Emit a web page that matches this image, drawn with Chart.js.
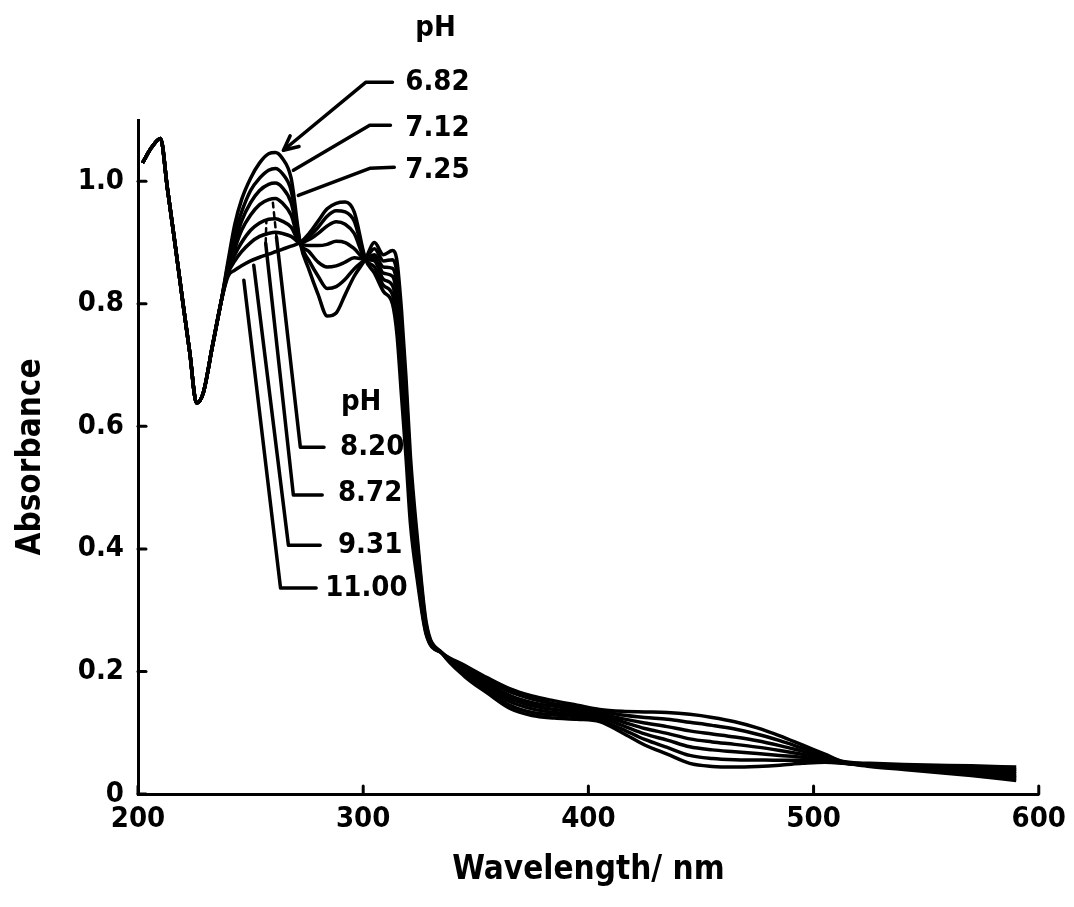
<!DOCTYPE html>
<html>
<head>
<meta charset="utf-8">
<script src="https://cdn.jsdelivr.net/npm/chart.js@4.4.1/dist/chart.umd.min.js"></script>
<style>
  html, body { margin: 0; padding: 0; background: #fff; }
  #wrap { width: 1074px; height: 907px; }
</style>
</head>
<body>
<div id="wrap"><canvas id="spectra" width="1074" height="907"></canvas></div>
<script>
// Wavelength grid (nm) shared by all spectra
const wavelength = [202, 206, 210, 213, 216, 220, 223, 226, 229, 233, 237,
  240, 243, 246, 250, 254, 258, 261, 264, 268, 272,
  276, 280, 284, 288, 292, 296, 301,
  305, 309, 313, 315, 317, 319, 321, 324, 328, 335,
  345, 355, 365, 375, 385, 395, 405,
  415, 425, 435, 445, 455, 465, 475, 485, 495, 505, 513,
  525, 540, 555, 570, 590];

// Absorbance at each pH
const ph682 = [1.03, 1.055, 1.07, 0.99, 0.91, 0.80, 0.72, 0.638, 0.655, 0.73, 0.805,
  0.87, 0.93, 0.97, 1.005, 1.03, 1.045, 1.047, 1.038, 1.005, 0.90,
  0.855, 0.815, 0.78, 0.785, 0.815, 0.845, 0.873,
  0.90, 0.88, 0.887, 0.87, 0.79, 0.68, 0.55, 0.42, 0.28, 0.23,
  0.192, 0.165, 0.14, 0.128, 0.124, 0.122, 0.118,
  0.10, 0.08, 0.065, 0.05, 0.045, 0.044, 0.045, 0.047, 0.05, 0.052, 0.05,
  0.045, 0.04, 0.035, 0.03, 0.022];
const ph712 = [1.03, 1.055, 1.07, 0.99, 0.91, 0.80, 0.72, 0.638, 0.655, 0.73, 0.805,
  0.865, 0.915, 0.95, 0.985, 1.005, 1.018, 1.021, 1.013, 0.985, 0.90,
  0.87, 0.845, 0.825, 0.828, 0.84, 0.857, 0.873,
  0.89, 0.87, 0.872, 0.85, 0.765, 0.66, 0.53, 0.41, 0.275, 0.23,
  0.195, 0.169, 0.145, 0.133, 0.129, 0.126, 0.121,
  0.106, 0.089, 0.076, 0.063, 0.058, 0.056, 0.0555, 0.055, 0.055, 0.054, 0.0505,
  0.046, 0.041, 0.037, 0.033, 0.026];
const ph725 = [1.03, 1.055, 1.07, 0.99, 0.91, 0.80, 0.72, 0.638, 0.655, 0.73, 0.805,
  0.86, 0.9, 0.935, 0.965, 0.985, 0.995, 0.997, 0.99, 0.965, 0.90,
  0.885, 0.868, 0.86, 0.862, 0.868, 0.875, 0.873,
  0.88, 0.86, 0.858, 0.83, 0.74, 0.64, 0.515, 0.395, 0.27, 0.23,
  0.198, 0.173, 0.151, 0.139, 0.133, 0.130, 0.125,
  0.112, 0.098, 0.088, 0.077, 0.072, 0.069, 0.066, 0.063, 0.06, 0.056, 0.051,
  0.047, 0.043, 0.039, 0.035, 0.029];
const ph820 = [1.03, 1.055, 1.07, 0.99, 0.91, 0.80, 0.72, 0.638, 0.655, 0.73, 0.805,
  0.855, 0.89, 0.92, 0.945, 0.962, 0.97, 0.972, 0.965, 0.945, 0.90,
  0.895, 0.895, 0.897, 0.902, 0.9, 0.89, 0.873,
  0.875, 0.85, 0.845, 0.81, 0.715, 0.62, 0.50, 0.385, 0.268, 0.23,
  0.201, 0.178, 0.156, 0.144, 0.138, 0.134, 0.128,
  0.118, 0.107, 0.099, 0.09, 0.085, 0.081, 0.0765, 0.071, 0.065, 0.0585, 0.0515,
  0.0475, 0.044, 0.041, 0.038, 0.033];
const ph872 = [1.03, 1.055, 1.07, 0.99, 0.91, 0.80, 0.72, 0.638, 0.655, 0.73, 0.805,
  0.852, 0.88, 0.9, 0.92, 0.932, 0.938, 0.939, 0.935, 0.925, 0.90,
  0.905, 0.915, 0.927, 0.934, 0.93, 0.915, 0.873,
  0.87, 0.84, 0.83, 0.79, 0.695, 0.60, 0.48, 0.375, 0.265, 0.23,
  0.204, 0.182, 0.161, 0.149, 0.143, 0.137, 0.131,
  0.123, 0.116, 0.11, 0.103, 0.098, 0.093, 0.087, 0.079, 0.07, 0.061, 0.052,
  0.048, 0.045, 0.043, 0.041, 0.037];
const ph931 = [1.03, 1.055, 1.07, 0.99, 0.91, 0.80, 0.72, 0.638, 0.655, 0.73, 0.805,
  0.85, 0.87, 0.885, 0.9, 0.91, 0.915, 0.917, 0.915, 0.91, 0.90,
  0.91, 0.925, 0.943, 0.952, 0.95, 0.935, 0.873,
  0.86, 0.83, 0.815, 0.77, 0.67, 0.575, 0.46, 0.36, 0.262, 0.23,
  0.207, 0.186, 0.167, 0.155, 0.147, 0.141, 0.135,
  0.129, 0.125, 0.122, 0.117, 0.112, 0.106, 0.0975, 0.087, 0.075, 0.063, 0.0525,
  0.049, 0.047, 0.045, 0.043, 0.04];
const ph1100 = [1.03, 1.055, 1.07, 0.99, 0.91, 0.80, 0.72, 0.638, 0.655, 0.73, 0.805,
  0.845, 0.855, 0.862, 0.87, 0.876, 0.881, 0.885, 0.889, 0.894, 0.90,
  0.915, 0.935, 0.955, 0.964, 0.966, 0.95, 0.873,
  0.85, 0.82, 0.80, 0.75, 0.65, 0.55, 0.44, 0.35, 0.26, 0.23,
  0.21, 0.19, 0.172, 0.16, 0.152, 0.145, 0.138,
  0.135, 0.134, 0.133, 0.13, 0.125, 0.118, 0.108, 0.095, 0.08, 0.065, 0.053,
  0.05, 0.048, 0.047, 0.046, 0.044];

const phLabels = ['6.82', '7.12', '7.25', '8.20', '8.72', '9.31', '11.00'];
const phSeries = [ph682, ph712, ph725, ph820, ph872, ph931, ph1100];

const xTicks = [200, 300, 400, 500, 600];
const yTicks = [0, 0.2, 0.4, 0.6, 0.8, 1.0];

const textFont = "'DejaVu Sans Condensed', 'DejaVu Sans', sans-serif";

// Callouts, in data units (nm, absorbance)
const callouts = [
  { text: 'pH',   at: [323.1, 1.250] },
  { text: '6.82', at: [318.7, 1.161], path: [[313.0, 1.1615], [301.1, 1.1615], [264.6, 1.0506]], arrow: true },
  { text: '7.12', at: [318.7, 1.086], path: [[312.1, 1.0914], [302.9, 1.0914], [269.0, 1.018]] },
  { text: '7.25', at: [318.7, 1.018], path: [[313.8, 1.0228], [302.9, 1.0212], [271.2, 0.977]] },
  { text: 'pH',   at: [290.1, 0.6395] },
  { text: '8.20', at: [289.7, 0.566], path: [[261.5, 0.9087], [272.1, 0.566], [282.6, 0.566]], dash: [[261.5, 0.9087], [259.9, 0.965]] },
  { text: '8.72', at: [288.8, 0.491], path: [[256.7, 0.8989], [269.0, 0.4878], [281.8, 0.4878]], dash: [[256.7, 0.8989], [257.0, 0.935]] },
  { text: '9.31', at: [288.8, 0.406], path: [[251.4, 0.863], [266.8, 0.406], [280.9, 0.406]] },
  { text: '11.00', at: [283.1, 0.336], path: [[247.0, 0.8385], [263.3, 0.336], [279.1, 0.336]] }
];

const annotatePlugin = {
  id: 'annotate',
  afterDraw(chart) {
    const ctx = chart.ctx;
    const xs = chart.scales.x, ys = chart.scales.y;
    const px = p => [xs.getPixelForValue(p[0]), ys.getPixelForValue(p[1])];
    ctx.save();
    ctx.strokeStyle = '#000';
    ctx.fillStyle = '#000';
    ctx.lineCap = 'round';
    ctx.lineJoin = 'round';

    // inward tick marks
    ctx.lineWidth = 3;
    xTicks.forEach(v => {
      const x = xs.getPixelForValue(v);
      ctx.beginPath();
      ctx.moveTo(x, ys.bottom);
      ctx.lineTo(x, ys.bottom - 8);
      ctx.stroke();
    });
    yTicks.forEach(v => {
      const y = ys.getPixelForValue(v);
      ctx.beginPath();
      ctx.moveTo(xs.left, y);
      ctx.lineTo(xs.left + 8, y);
      ctx.stroke();
    });

    ctx.font = 'bold 29px ' + textFont;
    ctx.textAlign = 'left';
    ctx.textBaseline = 'middle';
    callouts.forEach(c => {
      const t = px(c.at);
      ctx.fillText(c.text, t[0], t[1]);
      if (c.path) {
        ctx.lineWidth = 3.5;
        ctx.setLineDash([]);
        ctx.beginPath();
        c.path.forEach((p, i) => {
          const q = px(p);
          if (i === 0) ctx.moveTo(q[0], q[1]); else ctx.lineTo(q[0], q[1]);
        });
        ctx.stroke();
        if (c.arrow) {
          const a = px(c.path[c.path.length - 2]);
          const b = px(c.path[c.path.length - 1]);
          const ang = Math.atan2(b[1] - a[1], b[0] - a[0]);
          ctx.beginPath();
          ctx.moveTo(b[0] - 16 * Math.cos(ang - 0.45), b[1] - 16 * Math.sin(ang - 0.45));
          ctx.lineTo(b[0], b[1]);
          ctx.lineTo(b[0] - 16 * Math.cos(ang + 0.45), b[1] - 16 * Math.sin(ang + 0.45));
          ctx.stroke();
        }
      }
      if (c.dash) {
        ctx.lineWidth = 2.5;
        ctx.setLineDash([5, 5]);
        const a = px(c.dash[0]), b = px(c.dash[1]);
        ctx.beginPath();
        ctx.moveTo(a[0], a[1]);
        ctx.lineTo(b[0], b[1]);
        ctx.stroke();
        ctx.setLineDash([]);
      }
    });
    ctx.restore();
  }
};

const datasets = phSeries.map((vals, i) => ({
  label: 'pH ' + phLabels[i],
  data: wavelength.map((w, j) => ({ x: w, y: vals[j] })),
  borderColor: '#000',
  borderWidth: 3.5,
  pointRadius: 0,
  fill: false,
  cubicInterpolationMode: 'monotone'
}));

new Chart(document.getElementById('spectra').getContext('2d'), {
  type: 'line',
  data: { datasets: datasets },
  options: {
    responsive: false,
    animation: false,
    layout: { padding: { left: 0, right: 26, top: 120, bottom: 0 } },
    plugins: {
      legend: { display: false },
      tooltip: { enabled: false }
    },
    scales: {
      x: {
        type: 'linear',
        min: 200,
        max: 600,
        afterFit: function(scale) { scale.height = 113; },
        afterBuildTicks: function(scale) { scale.ticks = xTicks.map(v => ({ value: v })); },
        grid: { display: true, drawOnChartArea: false, drawTicks: false, color: 'rgba(0,0,0,0)' },
        border: { display: true, color: '#000', width: 3 },
        ticks: {
          color: '#000',
          padding: 8,
          maxRotation: 0,
          font: { family: textFont, size: 29, weight: 'bold' }
        },
        title: {
          display: true,
          text: 'Wavelength/ nm',
          color: '#000',
          font: { family: textFont, size: 33, weight: 'bold' },
          padding: { top: 0, bottom: 17 }
        }
      },
      y: {
        type: 'linear',
        min: 0,
        max: 1.1,
        afterFit: function(scale) { scale.width = 138; },
        afterBuildTicks: function(scale) { scale.ticks = yTicks.map(v => ({ value: v })); },
        grid: { display: true, drawOnChartArea: false, drawTicks: false, color: 'rgba(0,0,0,0)' },
        border: { display: true, color: '#000', width: 3 },
        ticks: {
          color: '#000',
          padding: 14,
          font: { family: textFont, size: 29, weight: 'bold' },
          callback: function(v) { return v === 0 ? '0' : v.toFixed(1); }
        },
        title: {
          display: true,
          text: 'Absorbance',
          color: '#000',
          font: { family: textFont, size: 33, weight: 'bold' },
          padding: { top: 12, bottom: 0 }
        }
      }
    }
  },
  plugins: [annotatePlugin]
});
</script>
</body>
</html>
